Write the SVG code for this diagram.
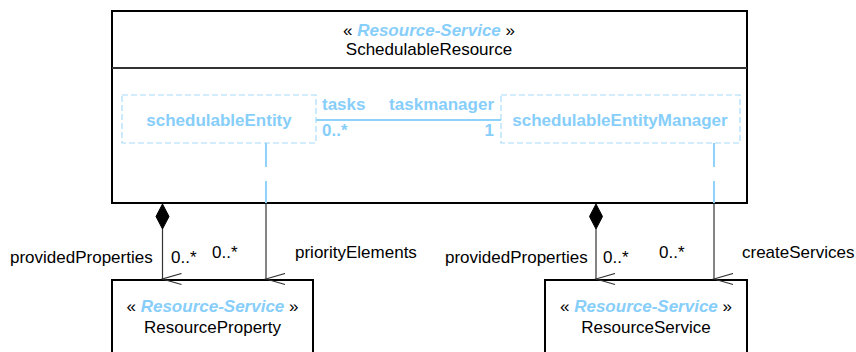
<svg xmlns="http://www.w3.org/2000/svg" width="856" height="352" viewBox="0 0 856 352">
<style>
text{font-family:"Liberation Sans",Arial,sans-serif;font-size:17px;fill:#000}
.st{font-weight:bold;font-style:italic;fill:#87cefa}
.bl{font-weight:bold;fill:#87cefa}
.box{fill:#fff;stroke:#000;stroke-width:2}
.div{stroke:#333;stroke-width:2}
.dash{fill:none;stroke:#a8dcfb;stroke-width:1.2;stroke-dasharray:6,3}
.bline{stroke:#8fd2fb;stroke-width:2;fill:none}
.conn{stroke:#333;stroke-width:1.2;fill:none}
.dia{fill:#000;stroke:#000}
</style>
<defs>
<marker id="open" markerWidth="14" markerHeight="22" refX="6" refY="20" orient="auto" markerUnits="userSpaceOnUse" viewBox="0 0 14 22">
<path d="M0.5,1 L6,20 L11.5,1" fill="none" stroke="#333" stroke-width="1.2"/>
</marker>
</defs>
<g id="SchedulableResource">
<rect class="box" x="112" y="11" width="635" height="192"/>
<line class="div" x1="112" y1="68" x2="747" y2="68"/>
<text x="429" y="36" text-anchor="middle">« <tspan class="st">Resource-Service</tspan> »</text>
<text x="429" y="55" text-anchor="middle">SchedulableResource</text>
</g>
<g id="schedulableEntity">
<rect class="dash" x="122" y="95" width="194" height="48"/>
<text class="bl" x="219" y="126" text-anchor="middle">schedulableEntity</text>
</g>
<g id="schedulableEntityManager">
<rect class="dash" x="501" y="95" width="239" height="48"/>
<text class="bl" x="620" y="126" text-anchor="middle">schedulableEntityManager</text>
</g>
<g id="ResourceProperty">
<rect class="box" x="112" y="280" width="201" height="80"/>
<text x="212.5" y="312" text-anchor="middle">« <tspan class="st">Resource-Service</tspan> »</text>
<text x="212.5" y="333" text-anchor="middle">ResourceProperty</text>
</g>
<g id="ResourceService">
<rect class="box" x="545" y="280" width="202" height="80"/>
<text x="646" y="312" text-anchor="middle">« <tspan class="st">Resource-Service</tspan> »</text>
<text x="646" y="333" text-anchor="middle">ResourceService</text>
</g>
<g id="connectors">
<line class="bline" x1="316" y1="120" x2="501" y2="120"/>
<text class="bl" x="322" y="110">tasks</text>
<text class="bl" x="494" y="110" text-anchor="end">taskmanager</text>
<text class="bl" x="322" y="136">0..*</text>
<text class="bl" x="494" y="136" text-anchor="end">1</text>

<line class="bline" x1="266" y1="143" x2="266" y2="167"/>
<line class="bline" x1="266" y1="181" x2="266" y2="203"/>
<line class="conn" x1="266" y1="203" x2="266" y2="279" marker-end="url(#open)"/>
<text x="212" y="258">0..*</text>
<text x="295" y="258">priorityElements</text>

<line class="bline" x1="714" y1="143" x2="714" y2="167"/>
<line class="bline" x1="714" y1="181" x2="714" y2="203"/>
<line class="conn" x1="714" y1="203" x2="714" y2="279" marker-end="url(#open)"/>
<text x="659" y="258">0..*</text>
<text x="742" y="258">createServices</text>

<path class="dia" d="M162.5,204 L169,216.5 L162.5,229 L156,216.5 Z"/>
<line class="conn" x1="162.5" y1="229" x2="162.5" y2="279" marker-end="url(#open)"/>
<text x="10" y="263">providedProperties</text>
<text x="171" y="263">0..*</text>

<path class="dia" d="M596,204 L602.5,216.5 L596,229 L589.5,216.5 Z"/>
<line class="conn" x1="596" y1="229" x2="596" y2="279" marker-end="url(#open)"/>
<text x="445" y="263">providedProperties</text>
<text x="603" y="263">0..*</text>
</g>
</svg>
